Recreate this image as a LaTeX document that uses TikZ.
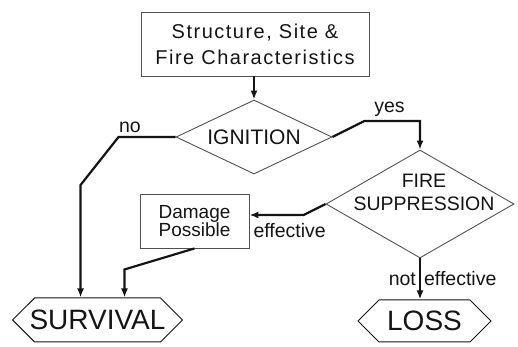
\documentclass[tikz,border=0pt]{standalone}
\usepackage{fontspec}
\setmainfont{Liberation Sans}
\newfontfamily\widefont{Liberation Sans}[LetterSpace=7.5]
\usepackage{xcolor}
\usepackage{tikz}
\usetikzlibrary{shapes.geometric, shapes.symbols, arrows.meta, calc}
\definecolor{outline}{RGB}{80, 80, 80}
\definecolor{ink}{RGB}{20, 20, 20}
\tikzstyle{block} = [rectangle, draw=outline, line width=0.9pt, text centered, align=center, text=ink]
\tikzstyle{decision} = [diamond, draw=outline, line width=0.9pt, inner sep=0pt, shape aspect=2.1, align=center, text=ink]
\tikzstyle{outcome} = [signal, signal to=east and west, draw=ink, line width=1pt, text=ink, font=\fontsize{28}{30}\selectfont]
\tikzstyle{tag} = [font=\fontsize{19.5}{22}\selectfont, text=ink, inner sep=3pt]
\tikzstyle{arrow} = [line width=2.2pt, draw=ink, -{Latex[length=9pt,width=7pt]}]

\begin{document}
\begin{tikzpicture}[x=1pt, y=1pt]
    \useasboundingbox (0,0) rectangle (518,347);
    \node[block, minimum width=228pt, minimum height=64pt, font=\widefont\fontsize{20}{26}\selectfont] (site) at (255,303) {Structure, Site \&\\Fire Characteristics};
    \node[decision, minimum width=156pt, minimum height=74pt, font=\fontsize{21}{24}\selectfont] (ign) at (254,210) {IGNITION};
    \node[decision, minimum width=188pt, minimum height=108pt] (supp) at (420,143) {};
    \node[font=\fontsize{19.5}{23}\selectfont, align=center, text=ink] (suppText) at (424,155) {FIRE\\SUPPRESSION};
    \node[block, minimum width=109pt, minimum height=54pt, font=\fontsize{19}{18}\selectfont] (dmg) at (194.5,126) {Damage\\Possible};
    \node[outcome, minimum height=44pt, inner xsep=-5pt] (surv) at (97.5,27) {SURVIVAL};
    \node[outcome, minimum height=42pt, minimum width=133pt] (loss) at (424.5,26) {LOSS};

    \draw[arrow] (site.south -| ign.north) -- (ign.north);
    \draw[arrow] (ign.west) -- node[tag, above, pos=0.8] {no} ++(-57,0) -- ++(-38,-48) coordinate (n1) -- (n1 |- surv.north);
    \draw[arrow] (ign.east) -- ++(32,16) coordinate (y1) -- node[tag, above, pos=0.45] {yes} (supp.north |- y1) -- (supp.north);
    \draw[arrow] (supp.west) -- ++(-22,-11) coordinate (e1) -- (dmg.east |- e1) node[tag, below right, yshift=-4pt] {effective};
    \draw[arrow] (dmg.south) -- ++(-70,-21) coordinate (d1) -- (d1 |- surv.north);
    \draw[arrow] (supp.south) -- node[tag, left] {not} node[tag, right] {effective} (supp.south |- loss.north);
\end{tikzpicture}
\end{document}
